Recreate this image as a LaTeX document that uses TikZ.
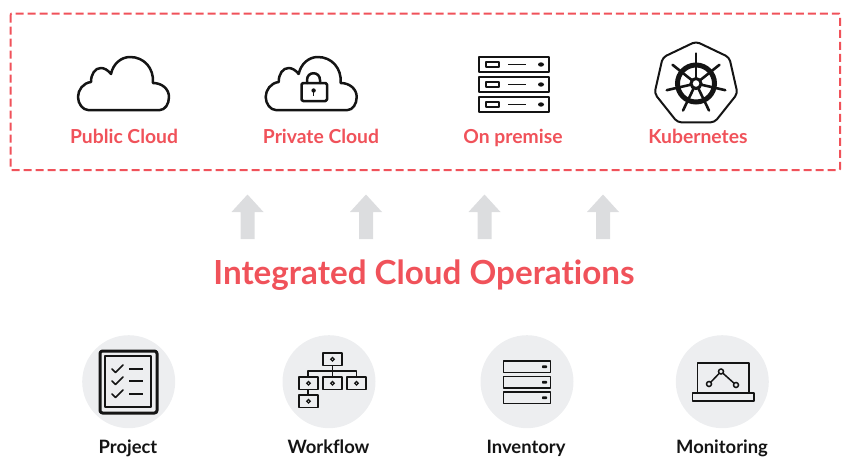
\documentclass[tikz,border=0pt]{standalone}
\usepackage{fontspec}
\setmainfont[Ligatures=NoCommon]{Lato}
\definecolor{brandred}{HTML}{F0525A}
\definecolor{arrowgrey}{HTML}{DCDDDF}
\definecolor{discgrey}{HTML}{EDEEF0}
\definecolor{inkblack}{HTML}{141414}
\newcommand{\cloudshape}{(88,110) -- (160,110) .. controls (165,110) and (169,104) .. (169,97) .. controls (169,89) and (162,83) .. (153,83) .. controls (154,68) and (144,57) .. (130,57) .. controls (121,57) and (113,64) .. (111,74) .. controls (108,70) and (104,68) .. (101,68) .. controls (95,68) and (91,74) .. (91,82) .. controls (83,83) and (78,90) .. (78,97) .. controls (78,104) and (83,110) .. (88,110) -- cycle}
\tikzset{
  icon/.style={draw=inkblack,line width=1.8pt,line join=round,line cap=round},
  thinicon/.style={draw=inkblack,line width=1.4pt,line join=round},
  toplabel/.style={text=brandred,font=\fontsize{19.3}{21}\selectfont\bfseries,anchor=base},
  botlabel/.style={text=inkblack,font=\fontsize{18.4}{20}\selectfont\bfseries,anchor=base},
  disc/.style={fill=discgrey,draw=none},
  uparrow/.style={fill=arrowgrey,draw=none},
}
\begin{document}
\begin{tikzpicture}[x=1pt,y=-1pt]
\useasboundingbox (0,0) rectangle (849,471);
% dashed frame
\draw[brandred,line width=2pt,dash pattern=on 8pt off 4pt,rounded corners=1pt] (10.5,13.5) rectangle (840,170);
% public cloud
\draw[icon,line width=2.5pt] \cloudshape;
% private cloud
\begin{scope}[xshift=187.7pt]
\draw[icon,line width=2.5pt] \cloudshape;
\end{scope}
\draw[icon,line width=2.5pt,rounded corners=1.5pt] (301.5,83) rectangle (327,101);
\draw[icon,line width=2.5pt] (307,83) -- (307,80) .. controls (307,71) and (320,71) .. (320,80) -- (320,83);
\fill[inkblack] (313.6,90.5) circle (2.2);
\draw[inkblack,line width=1.5pt] (313.6,91) -- (313.6,96);
% on premise
\foreach \yy in {57,77,97}{
  \draw[icon,line width=2pt,line cap=butt] (479,\yy) rectangle (549,\yy+15);
  \draw[thinicon] (486,\yy+5) rectangle (499,\yy+10);
  \draw[inkblack,line width=1.5pt] (508,\yy+7.5) -- (526,\yy+7.5);
  \fill[inkblack] (541,\yy+7.5) ellipse (3 and 2.2);
}
% kubernetes
\draw[icon,line width=2pt,rounded corners=4pt] (696,41.5) -- (729.3,57.4) -- (737.5,93.5) -- (714.5,122.4) -- (677.5,122.4) -- (654.5,93.5) -- (662.7,57.4) -- cycle;
\foreach \aa in {-90,-38.57,12.86,64.29,115.71,167.14,218.57}{
  \draw[inkblack,line width=2.6pt,line cap=round] (696,83.5) -- ++(\aa:30);
}
\draw[inkblack,line width=5pt] (696,83.5) circle (18.5);
\draw[inkblack,fill=white,line width=3pt] (696,83.5) circle (5);
\node[toplabel] (public) at (124,143) {Public Cloud};
\node[toplabel] (private) at (321,143) {Private Cloud};
\node[toplabel] (onprem) at (513,143) {On premise};
\node[toplabel] (kube) at (698,143) {Kubernetes};
% arrows
\foreach \cx in {247.5,366,484.5,603}{
  \fill[uparrow] (\cx,194.5) -- (\cx+16,212) -- (\cx+7,212) -- (\cx+7,239) -- (\cx-7,239) -- (\cx-7,212) -- (\cx-16,212) -- cycle;
}
\node[text=brandred,font=\fontsize{33.2}{36}\selectfont\bfseries,anchor=base] (title) at (424,284) {Integrated Cloud Operations};
% discs
\foreach \cx in {128.7,329,527,722.3}{
  \fill[disc] (\cx,381.7) circle (46.5);
}
% project
\draw[icon,line width=3pt,rounded corners=2.5pt] (100,351) rectangle (157,413);
\draw[thinicon,line width=1.7pt] (105,356) rectangle (151,407);
\foreach \yy in {369,381,394}{
  \draw[icon,line width=1.7pt] (112,\yy) -- (115.5,\yy+3.5) -- (123,\yy-4);
  \draw[inkblack,line width=1.7pt] (129,\yy) -- (143,\yy);
}
% workflow
\draw[thinicon,line width=1.5pt] (332.5,365) -- (332.5,377);
\draw[thinicon,line width=1.5pt] (308,377) -- (308,371) -- (356.5,371) -- (356.5,377);
\draw[thinicon,line width=1.5pt] (308,389) -- (308,395);
\foreach \xa/\ya in {323/353,299/377,323/377,347/377,299/395}{
  \draw[thinicon,line width=1.8pt] (\xa,\ya) rectangle (\xa+19,\ya+12.5);
  \draw[inkblack,fill=discgrey,line width=1.2pt] (\xa+9.5,\ya+6.25) circle (1.7);
}
% inventory
\foreach \yy in {361,376.5,392}{
  \draw[icon,line width=1.8pt,line cap=butt] (503.5,\yy) rectangle (550.5,\yy+11.5);
  \fill[inkblack,rounded corners=0.8pt] (542,\yy+4.3) rectangle (547,\yy+7.2);
}
% monitoring
\draw[thinicon,line width=1.7pt] (697.5,363) rectangle (749,392.5);
\draw[thinicon,line width=1.7pt] (692.5,393) rectangle (754,401);
\draw[thinicon,line width=1.5pt] (709,384) -- (721,371.5) -- (736,385);
\foreach \px/\py in {709/384,721/371.5,736/385}{
  \draw[inkblack,fill=discgrey,line width=1.5pt] (\px,\py) circle (2.5);
}
\node[botlabel] (project) at (128,453) {Project};
\node[botlabel] (workflow) at (328.5,453) {Workflow};
\node[botlabel] (inventory) at (526,453) {Inventory};
\node[botlabel] (monitoring) at (722,453) {Monitoring};
\end{tikzpicture}
\end{document}
